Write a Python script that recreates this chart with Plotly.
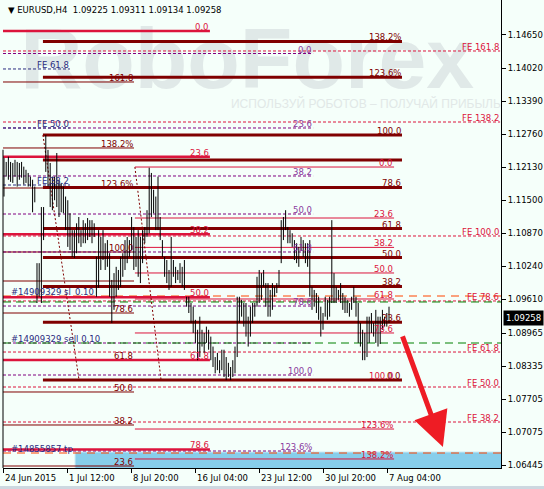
import plotly.graph_objects as go

# ---------------- data ----------------
HEADER = "EURUSD,H4  1.09225 1.09311 1.09134 1.09258"
LAST_PRICE = 1.09258

# H4 bar highs / lows (left to right)
HIGHS = [1.1231, 1.1223, 1.1233, 1.1223, 1.1221, 1.1227, 1.1223, 1.1221, 1.1223, 1.1214,
         1.1208, 1.1202, 1.1195, 1.1189, 1.1176, 1.1030, 1.1030, 1.1137, 1.1137, 1.1274,
         1.1246, 1.1221, 1.1195, 1.1195, 1.1240, 1.1189, 1.1183, 1.1176, 1.1157, 1.1150,
         1.1125, 1.1093, 1.1093, 1.1106, 1.1118, 1.1093, 1.1112, 1.1106, 1.1116, 1.1112,
         1.1112, 1.1106, 1.1042, 1.1093, 1.1080, 1.1093, 1.1068, 1.1074, 1.1049, 1.0998,
         1.1011, 1.1023, 1.1017, 1.1042, 1.1049, 1.1074, 1.1080, 1.1074, 1.1118, 1.1099,
         1.1080, 1.1093, 1.1080, 1.1093, 1.1099, 1.1131, 1.1212, 1.1202, 1.1170, 1.1157,
         1.1195, 1.1118, 1.1074, 1.1042, 1.1036, 1.1017, 1.1080, 1.1036, 1.1023, 1.1017,
         1.1030, 1.1023, 1.1036, 1.0966, 1.0966, 1.0954, 1.0947, 1.0922, 1.0903, 1.0928,
         1.0903, 1.0897, 1.0909, 1.0903, 1.0890, 1.0871, 1.0851, 1.0859, 1.0845, 1.0865,
         1.0865, 1.0851, 1.0840, 1.0832, 1.0845, 1.0871, 1.0966, 1.0966, 1.0960, 1.0954,
         1.0954, 1.0928, 1.0947, 1.0954, 1.0954, 1.1004, 1.1017, 1.1011, 1.1017, 1.0992,
         1.0992, 1.0979, 1.0992, 1.0985, 1.0992, 1.1017, 1.1112, 1.1118, 1.1131, 1.1099,
         1.1093, 1.1087, 1.1074, 1.1068, 1.1061, 1.1080, 1.1074, 1.1068, 1.1068, 1.1074,
         1.0985, 1.0979, 1.0973, 1.0966, 1.0947, 1.0935, 1.0966, 1.0960, 1.0966, 1.1112,
         1.1011, 1.0985, 1.0979, 1.0992, 1.0973, 1.0966, 1.0960, 1.0954, 1.0966, 1.0985,
         1.0966, 1.0954, 1.0916, 1.0903, 1.0897, 1.0928, 1.0928, 1.0935, 1.0916, 1.0941,
         1.0928, 1.0928, 1.0941, 1.0928, 1.0935, 1.0947]
LOWS = [1.1157, 1.1195, 1.1189, 1.1185, 1.1183, 1.1195, 1.1176, 1.1189, 1.1193, 1.1180,
        1.1183, 1.1176, 1.1176, 1.1127, 1.1146, 1.0954, 1.0966, 1.0954, 1.1074, 1.1204,
        1.1176, 1.1137, 1.1131, 1.1150, 1.1137, 1.1118, 1.1127, 1.1125, 1.1093, 1.1061,
        1.1055, 1.1042, 1.1040, 1.1049, 1.1068, 1.1061, 1.1068, 1.1068, 1.1074, 1.1080,
        1.1068, 1.1080, 1.0966, 1.0983, 1.1017, 1.1036, 1.1017, 1.1023, 1.0966, 1.0916,
        1.0941, 1.0966, 1.0979, 1.0985, 1.1004, 1.1017, 1.1030, 1.1042, 1.1055, 1.1017,
        1.1023, 1.1004, 1.0992, 1.1030, 1.1068, 1.1080, 1.1087, 1.1118, 1.1125, 1.1093,
        1.1093, 1.1074, 1.1042, 1.1004, 1.0992, 1.0979, 1.0985, 1.1004, 1.0992, 1.0998,
        1.0992, 1.0985, 1.0979, 1.0947, 1.0935, 1.0916, 1.0897, 1.0878, 1.0845, 1.0851,
        1.0871, 1.0859, 1.0878, 1.0865, 1.0845, 1.0832, 1.0820, 1.0826, 1.0820, 1.0826,
        1.0813, 1.0807, 1.0813, 1.0807, 1.0813, 1.0820, 1.0851, 1.0916, 1.0928, 1.0909,
        1.0890, 1.0871, 1.0890, 1.0916, 1.0928, 1.0947, 1.0954, 1.0960, 1.0985, 1.0947,
        1.0928, 1.0928, 1.0941, 1.0966, 1.0973, 1.0985, 1.1030, 1.1074, 1.1093, 1.1068,
        1.1068, 1.1061, 1.1036, 1.1030, 1.1023, 1.1055, 1.1042, 1.1030, 1.1023, 1.0966,
        1.0941, 1.0947, 1.0935, 1.0922, 1.0890, 1.0903, 1.0928, 1.0922, 1.0928, 1.0954,
        1.0954, 1.0954, 1.0960, 1.0954, 1.0941, 1.0935, 1.0935, 1.0928, 1.0941, 1.0954,
        1.0928, 1.0878, 1.0871, 1.0845, 1.0845, 1.0851, 1.0878, 1.0897, 1.0890, 1.0878,
        1.0871, 1.0876, 1.0903, 1.0909, 1.0909, 1.0916]

Y_TICKS = [1.14650, 1.14020, 1.13390, 1.12760, 1.12130, 1.11500, 1.10870,
           1.10240, 1.09610, 1.08965, 1.08335, 1.07705, 1.07075, 1.06445]
X_TICK_LABELS = ["24 Jun 2015", "1 Jul 12:00", "8 Jul 20:00", "16 Jul 04:00",
                 "23 Jul 12:00", "30 Jul 20:00", "7 Aug 04:00"]
FIRST_LABEL_BAR = -0.2
BARS_PER_LABEL = 29.1
X_RANGE = [-0.45, 225.9]
Y_RANGE = [1.06395, 1.15317]

# Fibonacci objects (start bar, end bar, labels, prices)
FIB_A = dict(start=-0.45, end=93.6,
             labels=["0.0", "23.6", "38.2", "50.0", "61.8", "78.6"],
             prices=[1.14726, 1.12331, 1.10849, 1.09652, 1.08454, 1.06749])
FIB_B = dict(start=17.7, end=180.9,
             labels=["138.2%", "123.6%", "100.0", "", "78.6", "61.8", "50.0", "38.2", "23.6", "0.0"],
             prices=[1.14527, 1.13845, 1.12743, 1.12267, 1.11744, 1.10959, 1.10408, 1.09857, 1.09175, 1.08073])
FIB_C = dict(start=-0.45, end=59.1,
             labels=["161.8", "138.2%", "123.6%", "100.0", "", "78.6", "61.8", "50.0", "38.2", "23.6"],
             prices=[1.13754, 1.12496, 1.11733, 1.10513, 1.09960, 1.09350, 1.08454, 1.07844, 1.07215, 1.06433])
FIB_D = dict(start=59.5, end=177.3,
             labels=["0.0", "23.6", "38.2", "50.0", "61.8", "78.6", "100.0", "123.6%", "138.2%"],
             prices=[1.12133, 1.11161, 1.10601, 1.10113, 1.09617, 1.08969, 1.08073, 1.07138, 1.06567])
FIB_E = dict(start=-0.45, end=140.5,
             labels=["0.0", "23.6", "38.2", "50.0", "61.8", "78.6", "", "100.0", "123.6%"],
             prices=[1.14297, 1.12877, 1.11962, 1.11237, 1.10513, 1.09483, 1.08778, 1.08168, 1.06719])
FIB_F = dict(start=-0.45, end=30.0,
             labels=["FE 61.8", "FE 50.0", "FE 38.2"],
             prices=[1.14002, 1.12877, 1.11790])
FIB_G = dict(start=-0.45, end=225.5,
             labels=["FE 161.8", "FE 138.2", "FE 100.0", "FE 78.6", "FE 61.8", "FE 50.0", "FE 38.2"],
             prices=[1.14345, 1.12991, 1.10818, 1.09579, 1.08606, 1.07939, 1.07272])
# order lines
ORDER_SL_TP = dict(start=-0.45, end=225.9, labels=["#14909329 sl", "#14855857 tp"],
                   prices=[1.09674, 1.06681])
ORDER_OPEN = dict(start=-0.45, end=225.9, labels=["", "#14909329 sell 0.10"],
                  prices=[1.09560, 1.08778])
SL_EXTRA_TEXT = "0.10"
SL_EXTRA_BAR = 31.8
ORDER_LABEL_BAR = 2.7

TRENDS = [((17.7, 1.12743), (34.1, 1.08073)), ((59.5, 1.12133), (71.4, 1.08073))]
RECT_X = (32.3, 240.0)
RECT_Y = (1.0600, 1.06700)
ARROW_FROM = (180.9, 1.08931)
ARROW_TO = (199.5, 1.06795)
WATERMARK = ("RoboForex", 110.5, 1.1405)
SUBTITLE = ("ИСПОЛЬЗУЙ РОБОТОВ – ПОЛУЧАЙ ПРИБЫЛЬ", 164.5, 1.1331)

# ---------------- styles ----------------
FONT = "DejaVu Sans"
FS = 8.5
BG = "#F5FFFA"
CRIMSON = "#DC143C"
MAROON = "#800000"
PURPLE = "#800080"
PURPLE_TXT = "#8A3A9E"
NAVY = "#2B2B80"
ORANGE = "#FF4500"
GREEN = "#008000"

fig = go.Figure()


def seg_trace(obj, color, width, dash="solid"):
    xs, ys = [], []
    for p in obj["prices"]:
        xs += [obj["start"], obj["end"], None]
        ys += [p, p, None]
    fig.add_trace(go.Scatter(x=xs, y=ys, mode="lines", hoverinfo="skip", showlegend=False,
                             line=dict(color=color, width=width, dash=dash)))


# blue rectangle
fig.add_trace(go.Scatter(x=[RECT_X[0], RECT_X[1], RECT_X[1], RECT_X[0], RECT_X[0]],
                         y=[RECT_Y[0], RECT_Y[0], RECT_Y[1], RECT_Y[1], RECT_Y[0]],
                         mode="lines", fill="toself", fillcolor="#87CEEB",
                         line=dict(color="#CBEAF5", width=1), hoverinfo="skip", showlegend=False))
# watermark
fig.add_trace(go.Scatter(x=[WATERMARK[1]], y=[WATERMARK[2]], mode="text", text=[WATERMARK[0]],
                         textfont=dict(family="Liberation Sans", size=86, color="#E0E9E8", weight="bold"),
                         hoverinfo="skip", showlegend=False))
fig.add_trace(go.Scatter(x=[SUBTITLE[1]], y=[SUBTITLE[2]], mode="text", text=[SUBTITLE[0]],
                         textfont=dict(family="Liberation Sans Narrow, Liberation Sans", size=12, color="#E1E8E7"),
                         hoverinfo="skip", showlegend=False))

seg_trace(FIB_C, MAROON, 1)
seg_trace(FIB_D, CRIMSON, 1)
seg_trace(FIB_E, PURPLE, 1, "3px,2px")
seg_trace(FIB_F, NAVY, 1, "3px,2px")
seg_trace(FIB_G, CRIMSON, 1, "3px,2px")
seg_trace(ORDER_OPEN, GREEN, 1, "8px,5px")
seg_trace(ORDER_SL_TP, ORANGE, 1, "8px,6px")
seg_trace(FIB_B, MAROON, 3)
seg_trace(FIB_A, CRIMSON, 2.5)

# trend lines of the fibo objects
for (a, b) in TRENDS:
    fig.add_trace(go.Scatter(x=[a[0], b[0]], y=[a[1], b[1]], mode="lines", hoverinfo="skip",
                             showlegend=False, line=dict(color=MAROON, width=1, dash="2px,2px")))

# price bars
bx, by = [], []
for i, (h, l) in enumerate(zip(HIGHS, LOWS)):
    bx += [i, i, None]
    by += [l, h, None]
fig.add_trace(go.Scatter(x=bx, y=by, mode="lines", hoverinfo="skip", showlegend=False,
                         line=dict(color="black", width=1)))

ann = []


def labels(obj, color, anchor="right", xpos=None):
    for lab, p in zip(obj["labels"], obj["prices"]):
        if lab:
            ann.append(dict(x=obj["end"] if xpos is None else xpos, y=p, xref="x", yref="y",
                            text=lab, showarrow=False, xanchor=anchor, yanchor="bottom",
                            yshift=-2, borderpad=0,
                            font=dict(family=FONT, size=FS, color=color)))


labels(FIB_A, CRIMSON)
labels(FIB_B, MAROON)
labels(FIB_C, MAROON)
labels(FIB_D, CRIMSON)
labels(FIB_E, PURPLE_TXT)
labels(FIB_F, NAVY)
labels(FIB_G, CRIMSON)
labels(ORDER_SL_TP, NAVY, "left", ORDER_LABEL_BAR)
labels(ORDER_OPEN, NAVY, "left", ORDER_LABEL_BAR)
ann.append(dict(x=SL_EXTRA_BAR, y=ORDER_SL_TP["prices"][0], xref="x", yref="y", text=SL_EXTRA_TEXT,
                showarrow=False, xanchor="left", yanchor="bottom", yshift=-2, borderpad=0,
                font=dict(family=FONT, size=FS, color=NAVY)))

# x tick labels (left-aligned at the tick, MT4 style)
tickvals = [FIRST_LABEL_BAR + k * BARS_PER_LABEL for k in range(len(X_TICK_LABELS))]
for tv, tl in zip(tickvals, X_TICK_LABELS):
    ann.append(dict(x=tv, y=0, xref="x", yref="paper", text=tl, showarrow=False,
                    xanchor="left", yanchor="top", yshift=-3, xshift=-1,
                    font=dict(family=FONT, size=FS, color="black")))

# header
ann.append(dict(x=0, y=1, xref="paper", yref="paper", text="▼ " + HEADER, showarrow=False,
                xanchor="left", yanchor="top", xshift=3, yshift=-3,
                font=dict(family=FONT, size=FS, color="black")))
# current price tag
ann.append(dict(x=1, y=LAST_PRICE, xref="paper", yref="y", text=f"{LAST_PRICE:.5f}",
                showarrow=False, xanchor="left", yanchor="middle", xshift=2,
                bgcolor="black", borderpad=2, font=dict(family=FONT, size=FS, color="white")))
# red arrow
ann.append(dict(x=ARROW_TO[0], y=ARROW_TO[1], ax=ARROW_FROM[0], ay=ARROW_FROM[1],
                xref="x", yref="y", axref="x", ayref="y", text="", showarrow=True,
                arrowhead=2, arrowsize=1.4, arrowwidth=5, arrowcolor="#EE1C24"))

shapes = [
    dict(type="line", xref="paper", yref="paper", x0=0, x1=0, y0=0, y1=0.68,
         line=dict(color="black", width=1)),
    dict(type="rect", xref="paper", yref="paper", x0=-0.01, x1=1.1, y0=-0.0385, y1=-0.046,
         line=dict(width=0), fillcolor="#CDD8E0"),
]

fig.update_layout(
    width=544, height=489,
    margin=dict(l=3, r=43, t=0, b=21),
    paper_bgcolor=BG, plot_bgcolor=BG,
    showlegend=False,
    annotations=ann, shapes=shapes,
    xaxis=dict(range=X_RANGE, tickvals=tickvals, ticktext=[""] * len(tickvals),
               showgrid=False, zeroline=False, showline=True, linecolor="black", linewidth=1,
               ticks="outside", ticklen=4, tickcolor="black", fixedrange=True),
    yaxis=dict(range=Y_RANGE, side="right", tickvals=Y_TICKS, tickformat=".5f",
               showgrid=False, zeroline=False, showline=True, linecolor="black", linewidth=1,
               ticks="outside", ticklen=4, tickcolor="black",
               tickfont=dict(family=FONT, size=FS, color="black"), fixedrange=True),
)

fig.write_html("out.html", config={"displayModeBar": False},
               post_script="document.body.style.margin='0';document.body.style.background='" + BG + "';")
